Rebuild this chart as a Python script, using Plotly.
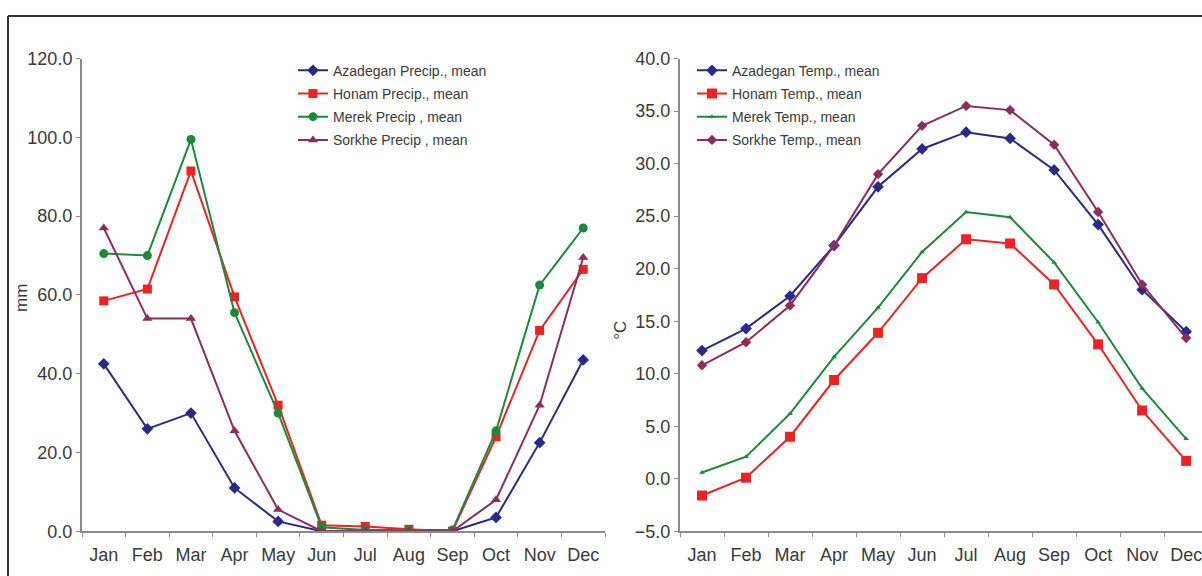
import plotly.graph_objects as go

months = ["Jan", "Feb", "Mar", "Apr", "May", "Jun", "Jul", "Aug", "Sep", "Oct", "Nov", "Dec"]

precip_names = ["Azadegan Precip., mean", "Honam Precip., mean", "Merek Precip , mean", "Sorkhe Precip , mean"]
azadegan_precip = [42.5, 26.0, 30.0, 11.0, 2.5, 0.0, 0.0, 0.0, 0.0, 3.5, 22.5, 43.5]
honam_precip = [58.5, 61.5, 91.5, 59.5, 32.0, 1.5, 1.2, 0.5, 0.0, 24.0, 51.0, 66.5]
merek_precip = [70.5, 70.0, 99.5, 55.5, 30.0, 1.0, 0.3, 0.3, 0.3, 25.5, 62.5, 77.0]
sorkhe_precip = [77.0, 54.0, 54.0, 25.5, 5.5, 0.0, 0.0, 0.0, 0.0, 8.0, 32.0, 69.5]

temp_names = ["Azadegan Temp., mean", "Honam Temp., mean", "Merek Temp., mean", "Sorkhe Temp., mean"]
azadegan_temp = [12.2, 14.3, 17.4, 22.2, 27.8, 31.4, 33.0, 32.4, 29.4, 24.2, 18.0, 14.0]
honam_temp = [-1.6, 0.1, 4.0, 9.4, 13.9, 19.1, 22.8, 22.4, 18.5, 12.8, 6.5, 1.7]
merek_temp = [0.6, 2.1, 6.2, 11.6, 16.3, 21.6, 25.4, 24.9, 20.6, 14.9, 8.6, 3.8]
sorkhe_temp = [10.8, 13.0, 16.5, 22.2, 29.0, 33.6, 35.5, 35.1, 31.8, 25.4, 18.5, 13.4]

colors = ["#2a2a86", "#ee2222", "#1b8a3c", "#8c2d5e"]
precip_symbols = ["diamond", "square", "circle", "triangle-up"]
precip_sizes = [9, 9, 9, 9]
temp_symbols = ["diamond", "square", "triangle-up", "diamond"]
temp_sizes = [9, 10, 5, 8]

W, H = 1202, 576
# observed effective drawing height / offset in the viewer
HE, OFF = 560, 8

def px(x):
    return x / W

def py(y):
    return 1 - (y - OFF) / HE

fig = go.Figure()

precip = [azadegan_precip, honam_precip, merek_precip, sorkhe_precip]
temps = [azadegan_temp, honam_temp, merek_temp, sorkhe_temp]

for i, (name, vals) in enumerate(zip(precip_names, precip)):
    fig.add_trace(go.Scatter(
        x=months, y=vals, name=name, mode="lines+markers",
        line=dict(color=colors[i], width=2),
        marker=dict(symbol=precip_symbols[i], size=precip_sizes[i], color=colors[i]),
        xaxis="x", yaxis="y", legend="legend", legendgroup="p%d" % i,
    ))

for i, (name, vals) in enumerate(zip(temp_names, temps)):
    fig.add_trace(go.Scatter(
        x=months, y=vals, name=name, mode="lines+markers",
        line=dict(color=colors[i], width=2),
        marker=dict(symbol=temp_symbols[i], size=temp_sizes[i], color=colors[i]),
        xaxis="x2", yaxis="y2", legend="legend2", legendgroup="t%d" % i,
    ))

FONT = "Liberation Sans, Arial"
axis_common = dict(
    showline=True, linecolor="#8a8a8a", linewidth=2,
    ticks="outside", tickcolor="#8a8a8a", ticklen=4, tickwidth=1,
    showgrid=False, zeroline=False,
    tickfont=dict(family=FONT, size=18, color="#3a3a3a"),
)
xaxis_extra = dict(type="category", tickson="boundaries", ticklabelstandoff=6)

ydom = [py(533), py(57)]

legend_common = dict(xanchor="left", yanchor="top", bgcolor="rgba(0,0,0,0)",
                     tracegroupgap=2, itemwidth=30,
                     font=dict(family=FONT, size=14, color="#3a3a3a"))

fig.update_layout(
    width=W, height=H,
    margin=dict(l=0, r=0, t=0, b=0),
    paper_bgcolor="white", plot_bgcolor="white",
    font=dict(family=FONT, color="#3a3a3a"),
    xaxis=dict(domain=[px(82), px(605)], range=[-0.5, 11.5], anchor="y",
               **xaxis_extra, **axis_common),
    yaxis=dict(domain=ydom, range=[0, 120], tickvals=[0, 20, 40, 60, 80, 100, 120],
               tickformat=".1f", anchor="x", **axis_common),
    xaxis2=dict(domain=[px(680), 1.0], range=[-0.5, 11.36], anchor="y2",
                **xaxis_extra, **axis_common),
    yaxis2=dict(domain=ydom, range=[-5, 40], tickvals=[-5, 0, 5, 10, 15, 20, 25, 30, 35, 40],
                tickformat=".1f", anchor="x2", **axis_common),
    legend=dict(x=px(293), y=py(53), **legend_common),
    legend2=dict(x=px(692), y=py(53), **legend_common),
    showlegend=True,
    annotations=[
        dict(text="mm", xref="paper", yref="paper", x=px(22), y=py(298),
             xanchor="center", yanchor="middle", textangle=-90, showarrow=False,
             font=dict(family=FONT, size=17, color="#3a3a3a")),
        dict(text="°C", xref="paper", yref="paper", x=px(621), y=py(331),
             xanchor="center", yanchor="middle", textangle=-90, showarrow=False,
             font=dict(family=FONT, size=17, color="#3a3a3a")),
    ],
    shapes=[
        dict(type="line", xref="paper", yref="paper", x0=px(8), x1=1.0, y0=py(14), y1=py(14),
             line=dict(color="#333333", width=2)),
        dict(type="line", xref="paper", yref="paper", x0=px(8), x1=px(8), y0=-0.1, y1=py(14),
             line=dict(color="#333333", width=2)),
    ],
)

fig.write_html("out.html")
